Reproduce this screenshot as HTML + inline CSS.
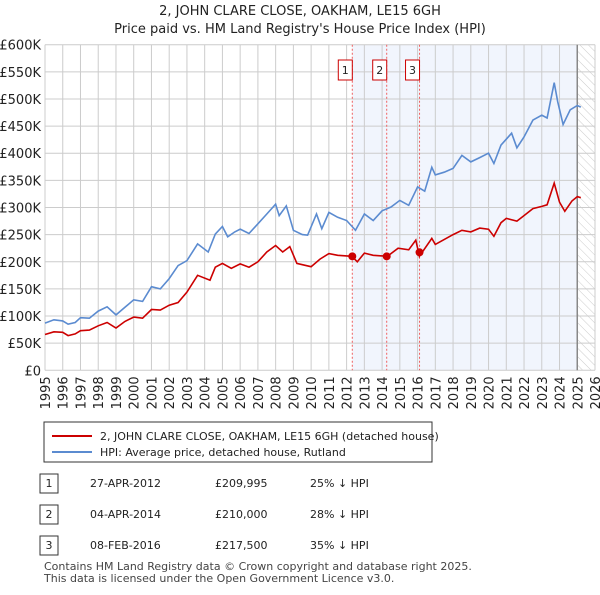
<!DOCTYPE html>
<html><head><meta charset="utf-8"><style>
body{margin:0;background:#fff;font-family:"Liberation Sans","DejaVu Sans",sans-serif;}
svg text{font-family:"DejaVu Sans","Liberation Sans",sans-serif;}
</style></head><body>
<svg id="chart" width="600" height="590" xmlns="http://www.w3.org/2000/svg">
<defs><pattern id="hatch" width="6" height="6" patternUnits="userSpaceOnUse" patternTransform="rotate(-45)"><line x1="0" y1="0" x2="0" y2="6" stroke="#ccc" stroke-width="1"/></pattern></defs>
<text x="300" y="15" text-anchor="middle" font-size="13" fill="#222">2, JOHN CLARE CLOSE, OAKHAM, LE15 6GH</text>
<text x="300" y="33" text-anchor="middle" font-size="13" fill="#222">Price paid vs. HM Land Registry's House Price Index (HPI)</text>
<g id="plot"></g>
<g>
<rect x="44" y="422" width="388" height="40" fill="#fff" stroke="#333"/>
<line x1="52" y1="436" x2="92" y2="436" stroke="#cc0000" stroke-width="2"/>
<text x="100" y="440" font-size="11" fill="#222">2, JOHN CLARE CLOSE, OAKHAM, LE15 6GH (detached house)</text>
<line x1="52" y1="452" x2="92" y2="452" stroke="#5b8bd0" stroke-width="2"/>
<text x="100" y="456" font-size="11" fill="#222">HPI: Average price, detached house, Rutland</text>
</g>
<g id="table" font-size="11" fill="#222"></g>
<text x="44" y="570" font-size="11" fill="#444">Contains HM Land Registry data © Crown copyright and database right 2025.</text>
<text x="44" y="582" font-size="11" fill="#444">This data is licensed under the Open Government Licence v3.0.</text>
</svg>
<script>
const hpiT=[1995,1995.5,1996,1996.3,1996.7,1997,1997.5,1998,1998.5,1999,1999.5,2000,2000.5,2001,2001.5,2002,2002.5,2003,2003.6,2004.2,2004.6,2005,2005.3,2005.7,2006,2006.5,2007,2007.5,2008,2008.2,2008.6,2009,2009.5,2009.8,2010.3,2010.6,2011,2011.5,2012,2012.5,2013,2013.5,2014,2014.5,2015,2015.5,2016,2016.4,2016.8,2017,2017.5,2018,2018.5,2019,2019.5,2020,2020.3,2020.7,2021.3,2021.6,2022,2022.5,2023,2023.3,2023.7,2023.9,2024.2,2024.6,2025,2025.2];
const hpiV=[87,93,91,85,88,97,96,109,117,102,116,130,127,154,150,169,193,202,233,218,251,265,246,255,260,252,270,288,306,285,303,258,250,249,288,261,291,282,276,258,288,276,294,301,313,304,338,330,374,360,365,372,396,384,392,400,381,415,437,410,430,461,470,465,530,495,453,480,488,485];
const redT=[1995,1995.5,1996,1996.3,1996.7,1997,1997.5,1998,1998.5,1999,1999.5,2000,2000.5,2001,2001.5,2002,2002.5,2003,2003.6,2004.3,2004.6,2005,2005.5,2006,2006.5,2007,2007.5,2008,2008.4,2008.8,2009.2,2010,2010.5,2011,2011.5,2012.3,2012.6,2013,2013.5,2014.3,2014.9,2015.5,2015.9,2016.1,2016.8,2017,2018,2018.5,2019,2019.5,2020,2020.3,2020.7,2021,2021.6,2022,2022.5,2023,2023.3,2023.7,2024,2024.3,2024.7,2025,2025.2];
const redV=[66,71,70,64,67,73,74,82,88,78,90,98,96,112,111,120,125,144,175,166,190,197,188,196,190,200,218,230,218,228,197,191,205,215,212,210,200,216,212,210,225,222,240,210,243,232,250,258,255,262,260,247,272,280,275,285,298,302,305,345,310,293,312,320,318];
const saleT=[2012.32,2014.26,2016.11];
const saleV=[209.995,210,217.5];
const saleLbl=["1","2","3"];
const saleDate=["27-APR-2012","04-APR-2014","08-FEB-2016"];
const salePrice=["£209,995","£210,000","£217,500"];
const salePct=["25% ↓ HPI","28% ↓ HPI","35% ↓ HPI"];
const yTicks=[0,50,100,150,200,250,300,350,400,450,500,550,600];
const xTicks=[];for(let y=1995;y<=2026;y++)xTicks.push(y);
const X0=45,X1=595,Y0=370.3,Y1=44.7,T0=1995,T1=2026,VMAX=600;
const sx=t=>X0+(t-T0)/(T1-T0)*(X1-X0);
const sy=v=>Y0-v/VMAX*(Y0-Y1);
const NS="http://www.w3.org/2000/svg";
const plot=document.getElementById('plot');
function mk(tag,at,parent){const e=document.createElementNS(NS,tag);for(const k in at)e.setAttribute(k,at[k]);(parent||plot).appendChild(e);return e;}
const nowT=2025.0;
let r=mk('rect',{x:sx(saleT[0]),y:Y1,width:sx(nowT)-sx(saleT[0]),height:Y0-Y1,fill:'#eef3fc',opacity:0.8});


r=mk('rect',{x:sx(nowT),y:Y1,width:X1-sx(nowT),height:Y0-Y1,fill:'url(#hatch)'});


yTicks.forEach(v=>{
 const l=mk('line',{x1:X0,x2:X1,y1:sy(v),y2:sy(v),stroke:'#ccc'});
 
 
 const t=mk('text',{x:X0-4,y:sy(v)+5,'text-anchor':'end','font-size':13,fill:'#222'});
 t.textContent=v===0?'£0':'£'+v+'K';
 
 
});
xTicks.forEach(y=>{
 const l=mk('line',{x1:sx(y),x2:sx(y),y1:Y1,y2:Y0,stroke:'#ccc'});
 
 
 const t=mk('text',{x:0,y:0,'text-anchor':'end','font-size':13,fill:'#222',transform:`translate(${sx(y)+5},${Y0+6}) rotate(-90)`});
 t.textContent=y;
 
 
});
let nl=mk('line',{x1:sx(nowT),x2:sx(nowT),y1:Y1,y2:Y0,stroke:'#888','stroke-width':1.5});


saleT.forEach((t,i)=>{
 const l=mk('line',{x1:sx(t),x2:sx(t),y1:Y1,y2:Y0,stroke:'#f06060','stroke-dasharray':'2,2'});
 
 
});
function line(T,V,col,name){
 const p=mk('path',{d:T.map((t,i)=>(i?'L':'M')+sx(t).toFixed(1)+','+sy(V[i]).toFixed(1)).join(''),fill:'none',stroke:col,'stroke-width':1.6});
 
 
}
line(hpiT,hpiV,'#5b8bd0','hpi-line');
line(redT,redV,'#cc0000','property-line');
saleT.forEach((t,i)=>{
 const c=mk('circle',{cx:sx(t),cy:sy(saleV[i]),r:4,fill:'#cc0000'});
 
 
 const b=mk('rect',{x:sx(t)-14,y:60,width:14,height:20,fill:'#fff',stroke:'#cc0000'});
 
 
 const tx=mk('text',{x:sx(t)-7,y:74,'text-anchor':'middle','font-size':11,fill:'#222'});
 tx.textContent=saleLbl[i];
 
 
});
const tb=document.getElementById('table');
saleLbl.forEach((s,i)=>{
 const y=483+i*31;
 const b=mk('rect',{x:40,y:y-9,width:18,height:19,fill:'#fff',stroke:'#333'},tb);
 
 
 const cells=[[49,s,'middle'],[90,saleDate[i],'start'],[215,salePrice[i],'start'],[310,salePct[i],'start']];
 cells.forEach(c=>{
  const t=mk('text',{x:c[0],y:y+4,'text-anchor':c[2],'font-size':11,fill:'#222'},tb);
  t.textContent=c[1];
  
  
 });
});
</script>
</body></html>
